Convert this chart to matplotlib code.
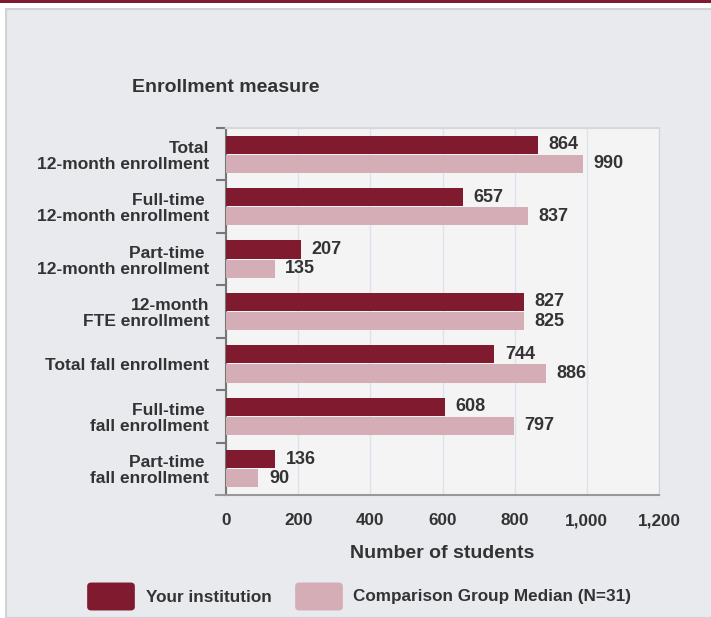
import matplotlib
matplotlib.use("Agg")
import matplotlib.pyplot as plt
from matplotlib.patches import Rectangle, FancyBboxPatch
from matplotlib.lines import Line2D
import numpy as np

categories = [
    "Total\n12-month enrollment",
    "Full-time \n12-month enrollment",
    "Part-time \n12-month enrollment",
    "12-month\nFTE enrollment",
    "Total fall enrollment",
    "Full-time \nfall enrollment",
    "Part-time \nfall enrollment",
]
your_institution = [864, 657, 207, 827, 744, 608, 136]
comparison_median = [990, 837, 135, 825, 886, 797, 90]
x_ticks = [0, 200, 400, 600, 800, 1000, 1200]
x_tick_labels = ["0", "200", "400", "600", "800", "1,000", "1,200"]
series_names = ["Your institution", "Comparison Group Median (N=31)"]

C_MAROON = "#801a2e"
C_PINK = "#d5adb6"
TXT = "#333333"
plt.rcParams["font.family"] = ["Liberation Sans", "DejaVu Sans"]

W, H = 711, 618
fig = plt.figure(figsize=(W / 100, H / 100), dpi=100)
fig.patch.set_facecolor("white")

def fx(px):
    return px / W

def fy(py):
    return 1 - py / H

# panel background and top bar
fig.patches.append(Rectangle((fx(6), 0), 1 - fx(6) + 0.01, fy(9), transform=fig.transFigure,
                             facecolor="#e9eaee", edgecolor="#d2d2d4", linewidth=1.5, zorder=-2))
fig.patches.append(Rectangle((0, fy(3)), 1, fy(0) - fy(3), transform=fig.transFigure,
                             facecolor=C_MAROON, edgecolor="none", zorder=-1))

ax = fig.add_axes([fx(226), fy(495), fx(659) - fx(226), fy(128) - fy(495)])
ax.set_zorder(5)
ax.set_facecolor("#f4f4f4")

n = len(categories)
y = np.arange(n)
bh = 0.345
gap = 0.02
ax.barh(y - bh / 2 - gap / 2, your_institution, height=bh, color=C_MAROON, zorder=3)
ax.barh(y + bh / 2 + gap / 2, comparison_median, height=bh, color=C_PINK, zorder=3)

for i in range(n):
    ax.annotate(f"{your_institution[i]:,}", (your_institution[i], y[i] - bh / 2 - gap / 2),
                xytext=(7.5, 0), textcoords="offset points", va="center", ha="left",
                fontsize=13, fontweight="bold", color=TXT)
    ax.annotate(f"{comparison_median[i]:,}", (comparison_median[i], y[i] + bh / 2 + gap / 2),
                xytext=(7.5, 0), textcoords="offset points", va="center", ha="left",
                fontsize=13, fontweight="bold", color=TXT)

ax.set_xlim(0, 1200)
ax.set_ylim(n - 0.5, -0.5)
ax.set_xticks(x_ticks)
ax.set_xticklabels(x_tick_labels, fontsize=12.3, fontweight="bold", color=TXT)
ax.tick_params(axis="x", length=0, pad=13)

ax.set_yticks(np.arange(-0.5, n - 0.5, 1.0))
ax.set_yticklabels([])
ax.tick_params(axis="y", which="major", length=7, width=1.5, color="#777777")
ax.set_yticks(y, minor=True)
ax.set_yticklabels(categories, minor=True, fontsize=12.5, fontweight="bold", color=TXT,
                   linespacing=1.1)
ax.tick_params(axis="y", which="minor", length=0, pad=12)

ax.grid(axis="x", color="#dde3ec", linewidth=1, zorder=0)
ax.set_axisbelow(True)

ax.spines["left"].set_color("#777777")
ax.spines["left"].set_linewidth(1.5)
ax.spines["bottom"].set_color("#999999")
ax.spines["bottom"].set_linewidth(1.5)
ax.spines["right"].set_color("#d0d4da")
ax.spines["top"].set_color("#d8d8d8")
ax.spines["top"].set_linewidth(1.5)
ax.add_line(Line2D([-0.024, 0], [0, 0], transform=ax.transAxes, color="#999999",
                   linewidth=1.5, clip_on=False))

ax.set_xlabel("Number of students", fontsize=14, fontweight="bold", color=TXT, labelpad=12)

fig.text(fx(132), fy(88), "Enrollment measure", fontsize=14, fontweight="bold", color=TXT,
         ha="left", va="center")

# legend
legend_items = [(87, 146, C_MAROON, series_names[0]), (295, 353, C_PINK, series_names[1])]
for bx, tx, col, lab in legend_items:
    fig.patches.append(FancyBboxPatch((fx(bx + 3), fy(608)), fx(42), fy(585) - fy(608),
                                      boxstyle="round,pad=0.004,rounding_size=0.006",
                                      transform=fig.transFigure, facecolor=col,
                                      edgecolor="none", zorder=2))
    fig.text(fx(tx), fy(597), lab, fontsize=12.3, fontweight="bold", color=TXT,
             ha="left", va="center")

fig.savefig("out.png", dpi=100)
